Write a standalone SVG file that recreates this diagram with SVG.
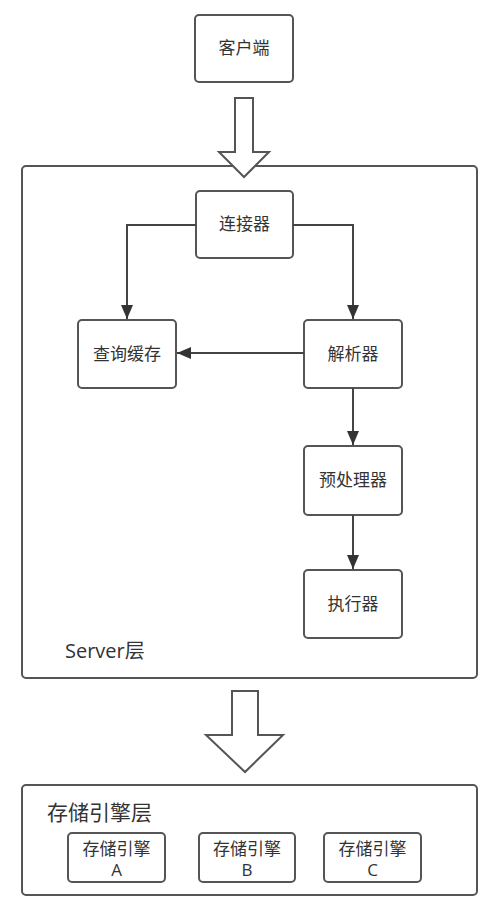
<svg xmlns="http://www.w3.org/2000/svg" width="500" height="912" viewBox="0 0 500 912">
<style>
.box{fill:#fff;stroke:#555;stroke-width:2}
.big{fill:none;stroke:#555;stroke-width:2}
.hollow{fill:#fff;stroke:#555;stroke-width:2;stroke-linejoin:miter}
.t{font-family:"Open Sans","Noto Sans CJK SC",sans-serif;fill:#333;font-size:17px;text-anchor:middle}
.tl{font-family:"Open Sans","Noto Sans CJK SC",sans-serif;fill:#333;font-size:20px}
.con{fill:none;stroke:#444;stroke-width:2}
</style>
<defs>
<marker id="ah" markerUnits="userSpaceOnUse" markerWidth="16" markerHeight="12" refX="14" refY="6" orient="auto">
<path d="M0,0 L14,6 L0,12 Z" fill="#333"/>
</marker>
</defs>
<rect width="500" height="912" fill="#fff"/>
<g id="server-layer">
<rect class="big" x="22" y="166" width="455" height="512" rx="4"/>
<text class="tl" x="65" y="658">Server层</text>
</g>
<g id="storage-layer">
<rect class="big" x="22" y="785" width="455" height="110" rx="4"/>
<text class="tl" x="47" y="820" style="font-size:21px">存储引擎层</text>
</g>
<g id="arrow-client-server">
<path class="hollow" d="M235,98 H253 V152 H269 L244,177 L219,152 H235 Z"/>
</g>
<g id="arrow-server-storage">
<path class="hollow" d="M232,691 H258 V735 H283 L245,772 L206,735 H232 Z"/>
</g>
<g id="client">
<rect class="box" x="195" y="15" width="98" height="67" rx="4"/>
<text class="t" x="244" y="54">客户端</text>
</g>
<g id="connector">
<rect class="box" x="196" y="191" width="97" height="67" rx="4"/>
<text class="t" x="244.5" y="230">连接器</text>
</g>
<g id="query-cache">
<rect class="box" x="78" y="320" width="98" height="68" rx="4"/>
<text class="t" x="127" y="360">查询缓存</text>
</g>
<g id="parser">
<rect class="box" x="304" y="320" width="98" height="68" rx="4"/>
<text class="t" x="353" y="360">解析器</text>
</g>
<g id="preprocessor">
<rect class="box" x="304" y="446" width="98" height="69" rx="4"/>
<text class="t" x="353" y="486">预处理器</text>
</g>
<g id="executor">
<rect class="box" x="304" y="570" width="98" height="68" rx="4"/>
<text class="t" x="353" y="610">执行器</text>
</g>
<g id="engine-a">
<rect class="box" x="68" y="833" width="97" height="49" rx="4"/>
<text class="t" x="116.5" y="855">存储引擎</text>
<text class="t" x="116.5" y="876">A</text>
</g>
<g id="engine-b">
<rect class="box" x="199" y="833" width="96" height="49" rx="4"/>
<text class="t" x="247" y="855">存储引擎</text>
<text class="t" x="247" y="876">B</text>
</g>
<g id="engine-c">
<rect class="box" x="324" y="833" width="97" height="49" rx="4"/>
<text class="t" x="372.5" y="855">存储引擎</text>
<text class="t" x="372.5" y="876">C</text>
</g>
<g id="connectors">
<path class="con" d="M196,225 H127 V319" marker-end="url(#ah)"/>
<path class="con" d="M293,225 H353 V319" marker-end="url(#ah)"/>
<path class="con" d="M304,353 H177" marker-end="url(#ah)"/>
<path class="con" d="M353,388 V445" marker-end="url(#ah)"/>
<path class="con" d="M353,515 V569" marker-end="url(#ah)"/>
</g>
</svg>
